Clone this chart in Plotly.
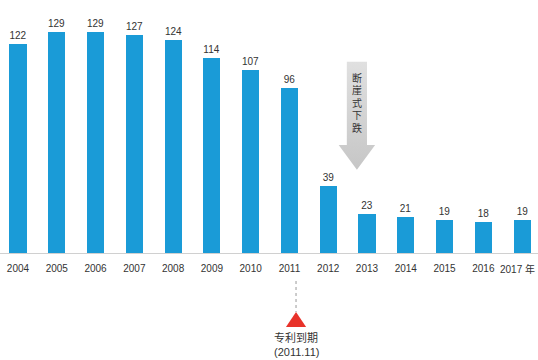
import plotly.graph_objects as go

years = ["2004", "2005", "2006", "2007", "2008", "2009", "2010", "2011",
         "2012", "2013", "2014", "2015", "2016", "2017"]
tick_labels = ["2004", "2005", "2006", "2007", "2008", "2009", "2010", "2011",
               "2012", "2013", "2014", "2015", "2016", "2017 年"]
values = [122, 129, 129, 127, 124, 114, 107, 96, 39, 23, 21, 19, 18, 19]

arrow_text = "断崖式下跌"
patent_text = "专利到期"
patent_date = "(2011.11)"

FONT = "Liberation Sans, Noto Sans CJK SC, sans-serif"
CJK = "Noto Sans CJK SC"
BLUE = "#1a9bd7"

fig = go.Figure()
fig.add_trace(go.Bar(
    x=list(range(len(years))), y=values, width=0.44,
    marker=dict(color=BLUE, line=dict(width=0)),
    text=[str(v) for v in values], textposition="outside",
    constraintext="none",
    textfont=dict(size=10, color="#333333", family=FONT),
    cliponaxis=False, hoverinfo="skip",
))

# down arrow (gray)
cx, sw, hw = 8.74, 0.26, 0.47
ytop, yhead, ytip = 111.5, 63, 48.5
ax = [cx - sw, cx + sw, cx + sw, cx + hw, cx, cx - hw, cx - sw, cx - sw]
ay = [ytop, ytop, yhead, yhead, ytip, yhead, yhead, ytop]
fig.add_trace(go.Scatter(
    x=ax, y=ay, mode="lines", fill="toself",
    line=dict(width=0, color="rgba(0,0,0,0)"),
    fillgradient=dict(type="vertical",
                      colorscale=[[0, "#c6c6c6"], [1, "#e0e0e0"]]),
    hoverinfo="skip", showlegend=False,
))
# vertical text, one character per annotation
for i, ch in enumerate(arrow_text):
    ypix = 78 + i * 12.4
    fig.add_annotation(x=cx, y=(253 - ypix) / 240, xref="x", yref="paper",
                       text=ch, showarrow=False, yanchor="middle",
                       borderpad=0,
                       font=dict(size=10, color="#333333", family=FONT))

# patent expiry marker
px = 7.17
fig.add_shape(type="line", xref="x", yref="paper", x0=px, x1=px,
              y0=(253 - 281) / 240, y1=(253 - 312) / 240,
              line=dict(color="#999999", width=1, dash="3px,3px"))
fig.add_shape(type="path", xref="x", yref="paper",
              path=f"M {px - 0.26} {(253 - 327) / 240} L {px + 0.26} {(253 - 327) / 240} "
                   f"L {px} {(253 - 312) / 240} Z",
              fillcolor="#e8322a", line=dict(width=0))
fig.add_annotation(x=px, y=(253 - 337) / 240, xref="x", yref="paper",
                   text=patent_text, showarrow=False, yanchor="middle",
                   borderpad=0,
                   font=dict(size=11, color="#333333", family=CJK))
fig.add_annotation(x=px, y=(253 - 352) / 240, xref="x", yref="paper",
                   text=patent_date, showarrow=False, yanchor="middle",
                   borderpad=0,
                   font=dict(size=11, color="#333333", family=FONT))

# last tick label placed against the right edge so it is not clipped
fig.add_annotation(x=536 / 538, y=(253 - 269) / 240, xref="paper", yref="paper",
                   text=tick_labels[-1], showarrow=False, xanchor="right",
                   yanchor="middle", borderpad=0,
                   font=dict(size=10, color="#333333", family=FONT))

fig.update_layout(
    width=538, height=360,
    margin=dict(l=0, r=0, t=13, b=107, autoexpand=False),
    plot_bgcolor="white", paper_bgcolor="white",
    showlegend=False, bargap=0,
    font=dict(family=FONT),
    xaxis=dict(range=[-0.464, 13.41], tickvals=list(range(len(years) - 1)),
               ticktext=tick_labels[:-1], showgrid=False, zeroline=False,
               automargin=False,
               showline=True, linecolor="#d0d0d0", linewidth=1,
               ticks="outside", ticklen=6, tickcolor="rgba(0,0,0,0)",
               tickfont=dict(size=10, color="#333333", family=FONT)),
    yaxis=dict(range=[0, 140], visible=False, automargin=False),
)

fig.write_html("out.html", config={"displayModeBar": False},
               post_script="document.body.style.margin='0';"
                           "document.body.style.overflow='hidden';")
